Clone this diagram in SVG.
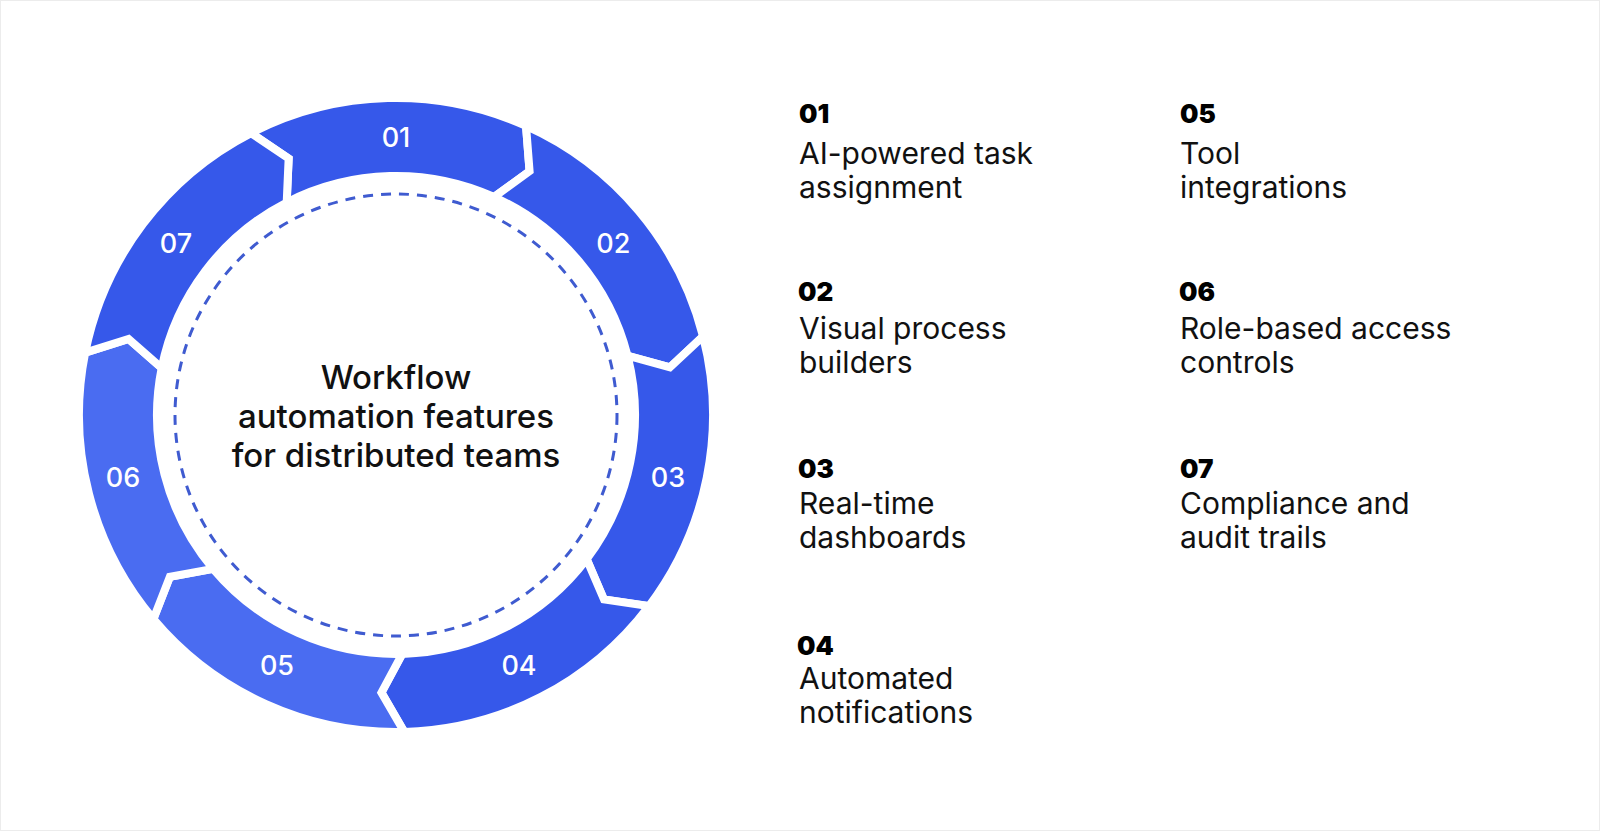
<svg xmlns="http://www.w3.org/2000/svg" width="1600" height="831" viewBox="0 0 1600 831">
<style>
.seg{stroke:#ffffff;stroke-width:8;stroke-linejoin:miter}
.dark{fill:#3658EA}
.light{fill:#4A6CF1}
.num{font-family:Inter,"Noto Sans",sans-serif;font-size:27px;font-weight:500;fill:#ffffff;text-anchor:middle;dominant-baseline:central}
.center{font-family:Inter,"Noto Sans",sans-serif;font-size:33px;font-weight:500;fill:#111111;text-anchor:middle}
.h{font-family:Inter,"Noto Sans",sans-serif;font-size:26px;font-weight:900;fill:#000000}
.b{font-family:Inter,"Noto Sans",sans-serif;font-size:30px;font-weight:400;fill:#111111}
</style>
<defs>
<path id="segshape" d="M251.04,133.1 A317,317 0 0 1 526.02,125.89 L529.56,171.18 L494.03,197.02 A239,239 0 0 0 286.71,202.46 L288.66,158.56 Z"/>
</defs>
<rect x="0.5" y="0.5" width="1599" height="830" fill="#ffffff" stroke="#ececec" stroke-width="1"/>
<g id="ring">
<g id="seg01"><use href="#segshape" class="seg dark"/><text class="num" x="396" y="137">01</text></g>
<g id="seg02"><use href="#segshape" class="seg dark" transform="rotate(51.4286 396 415)"/><text class="num" x="613.3" y="243">02</text></g>
<g id="seg03"><use href="#segshape" class="seg dark" transform="rotate(102.8571 396 415)"/><text class="num" x="668" y="477.5">03</text></g>
<g id="seg04"><use href="#segshape" class="seg dark" transform="rotate(154.2857 396 415)"/><text class="num" x="519" y="665">04</text></g>
<g id="seg05"><use href="#segshape" class="seg light" transform="rotate(205.7143 396 415)"/><text class="num" x="277" y="665">05</text></g>
<g id="seg06"><use href="#segshape" class="seg light" transform="rotate(257.1429 396 415)"/><text class="num" x="123" y="477.5">06</text></g>
<g id="seg07"><use href="#segshape" class="seg dark" transform="rotate(308.5714 396 415)"/><text class="num" x="176" y="243">07</text></g>
</g>
<g id="hub">
<circle cx="396" cy="415" r="221" fill="none" stroke="#3F5BD0" stroke-width="3" stroke-dasharray="10 8"/>
<text class="center" x="396" y="389">Workflow</text>
<text class="center" x="396" y="428">automation features</text>
<text class="center" x="396" y="467">for distributed teams</text>
</g>
<g id="item01"><text class="h" x="799" y="123">01</text><text class="b" x="799" y="164">AI-powered task</text><text class="b" x="799" y="198">assignment</text></g>
<g id="item02"><text class="h" x="798" y="301">02</text><text class="b" x="799" y="339">Visual process</text><text class="b" x="799" y="373">builders</text></g>
<g id="item03"><text class="h" x="798" y="478">03</text><text class="b" x="799" y="514">Real-time</text><text class="b" x="799" y="548">dashboards</text></g>
<g id="item04"><text class="h" x="797" y="655">04</text><text class="b" x="799" y="689">Automated</text><text class="b" x="799" y="723">notifications</text></g>
<g id="item05"><text class="h" x="1180" y="123">05</text><text class="b" x="1180" y="164">Tool</text><text class="b" x="1180" y="198">integrations</text></g>
<g id="item06"><text class="h" x="1179" y="301">06</text><text class="b" x="1180" y="339">Role-based access</text><text class="b" x="1180" y="373">controls</text></g>
<g id="item07"><text class="h" x="1180" y="478">07</text><text class="b" x="1180" y="514">Compliance and</text><text class="b" x="1180" y="548">audit trails</text></g>
</svg>
